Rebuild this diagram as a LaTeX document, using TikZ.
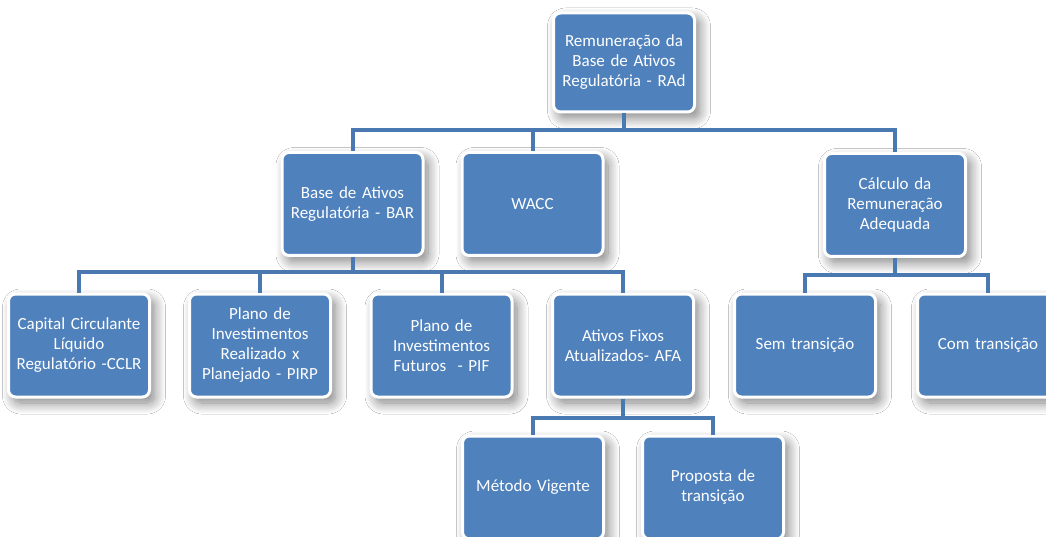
\documentclass[tikz,border=0pt]{standalone}
\usepackage{fontspec}
\setmainfont{Carlito}
\usetikzlibrary{shadows.blur}
\definecolor{boxblue}{HTML}{4F81BD}
\definecolor{linkblue}{HTML}{4A78B0}
\begin{document}
\begin{tikzpicture}[x=1pt,y=-1pt,
  box/.style={rectangle, rounded corners=7pt, fill=boxblue, draw=white, line width=3pt,
    minimum width=141pt, minimum height=103pt, text width=138pt, align=center,
    text=white, font=\fontsize{17pt}{20pt}\selectfont, inner sep=1pt,
    blur shadow={shadow xshift=5pt, shadow yshift=-6pt, shadow blur radius=11pt, shadow opacity=50, shadow blur steps=14}},
  conn/.style={draw=linkblue, line width=4pt}]
\useasboundingbox (0,0) rectangle (1046,537);
\clip (0,0) rectangle (1046,537);
\fill[white] (0,0) rectangle (1046,537);
% bus levels
\coordinate (b1) at (0,130);
\coordinate (b2) at (0,272);
\coordinate (b3) at (0,275);
\coordinate (b4) at (0,418);
\node[box, minimum height=99pt] (top) at (624,62.5) {Remuneração da\\Base de Ativos\\Regulatória - RAd};
\node[box] (bar) at (352.5,204) {Base de Ativos\\Regulatória - BAR};
\node[box] (wacc) at (532.5,204) {WACC};
\node[box] (calc) at (895,205) {Cálculo da\\Remuneração\\Adequada};
\node[box] (cclr) at (79,345.5) {Capital Circulante\\Líquido\\Regulatório -CCLR};
\node[box] (pirp) at (260,345.5) {Plano de\\Investimentos\\Realizado x\\Planejado - PIRP};
\node[box] (pif) at (441.5,345.5) {Plano de\\Investimentos\\Futuros~ - PIF};
\node[box] (afa) at (623,345.5) {Ativos Fixos\\Atualizados- AFA};
\node[box] (sem) at (805,345.5) {Sem transição};
\node[box] (com) at (988,345.5) {Com transição};
\node[box] (met) at (533,487.5) {Método Vigente};
\node[box] (prop) at (713,487.5) {Proposta de\\transição};
% connectors
\draw[conn] (top.south) -- (top.south |- b1) -| (bar.north);
\draw[conn] (top.south |- b1) -| (wacc.north);
\draw[conn] (top.south |- b1) -| (calc.north);
\draw[conn] (bar.south) -- (bar.south |- b2) -| (cclr.north);
\draw[conn] (bar.south |- b2) -| (pirp.north);
\draw[conn] (bar.south |- b2) -| (pif.north);
\draw[conn] (bar.south |- b2) -| (afa.north);
\draw[conn] (calc.south) -- (calc.south |- b3) -| (sem.north);
\draw[conn] (calc.south |- b3) -| (com.north);
\draw[conn] (afa.south) -- (afa.south |- b4) -| (met.north);
\draw[conn] (afa.south |- b4) -| (prop.north);
\end{tikzpicture}
\end{document}
